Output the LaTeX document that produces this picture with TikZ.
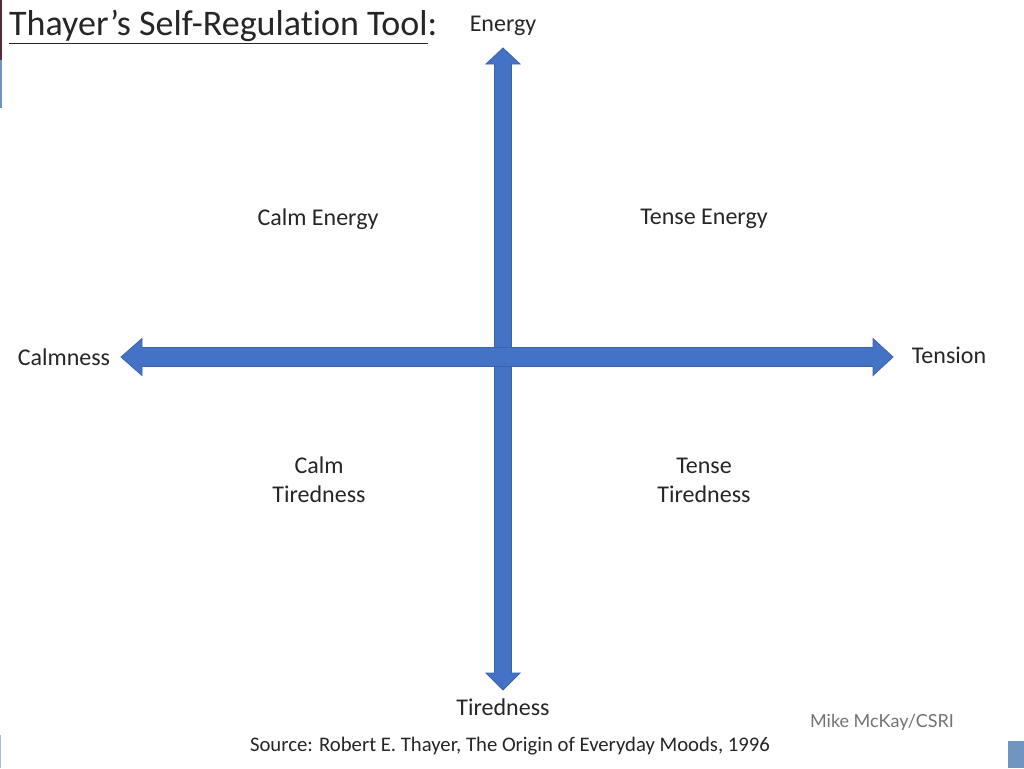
\documentclass[tikz,border=0pt]{standalone}
\usepackage{fontspec}
\setmainfont[RawFeature=-liga]{Carlito}
\newfontfamily\creditfont{Lato}
\definecolor{arrowblue}{HTML}{4472C4}
\definecolor{arrowedge}{HTML}{3A62A8}
\definecolor{textdark}{HTML}{262626}
\definecolor{edgered}{HTML}{5A2A3A}
\definecolor{edgeblue}{HTML}{6E96C0}
\begin{document}
\begin{tikzpicture}[x=1pt,y=-1pt,
  lbl/.style={inner sep=0pt, text=textdark, font=\fontsize{24}{29}\selectfont, align=center},
  fatarrow/.style={fill=arrowblue, draw=arrowedge, line width=0.8pt, line join=miter},
  srcfont/.style={inner sep=0pt, text=textdark, font=\fontsize{20.7}{24}\selectfont}]
\useasboundingbox[fill=white] (0,0) rectangle (1024,768);
% edge artefacts
\fill[edgered] (0,0) rectangle (2,60);
\fill[edgeblue] (0,60) rectangle (2,108);
\fill[edgeblue] (1008,741) rectangle (1024,768);
\fill[edgeblue!60] (0,735) rectangle (1.2,768);
% title
\node[inner sep=0pt, anchor=base west, text=textdark, font=\fontsize{36}{40}\selectfont] (title) at (9,36)
  {\underline{Thayer’s Self-Regulation Tool}:};
% axis end coordinates
\coordinate (vtop) at (503,48);
\coordinate (vbot) at (503,690);
\coordinate (hl) at (121,357);
\coordinate (hr) at (893,357);
% vertical double arrow
\draw[fatarrow] (vtop) -- ++(17,16) -- ++(-8.5,0) -- (511.5,673) -- ++(8.5,0) -- (vbot)
  -- (486,673) -- ++(8.5,0) -- (494.5,64) -- ++(-8.5,0) -- cycle;
% horizontal double arrow
\draw[fatarrow] (hl) -- (142,338.5) -- (142,347.5) -- (873,347.5) -- (873,338.5) -- (hr)
  -- (873,375.5) -- (873,366.5) -- (142,366.5) -- (142,375.5) -- cycle;
% axis labels
\node[lbl] (energy) at (503,26) {Energy};
\node[lbl] (tiredness) at (503,707) {Tiredness};
\node[lbl] (calmness) at (64,357) {Calmness};
\node[lbl] (tension) at (949,355) {Tension};
% quadrant labels
\node[lbl] (calmenergy) at (318,219) {Calm Energy};
\node[lbl] (tenseenergy) at (704,219) {Tense Energy};
\node[lbl, text depth=0pt] (calmtired) at (319,480) {Calm\\[0pt]Tiredness};
\node[lbl, text depth=0pt] (tensetired) at (704,480) {Tense\\[0pt]Tiredness};
% source and credit
\node[srcfont] (source) at (510,746) {Source: Robert E. Thayer, The Origin of Everyday Moods, 1996};
\node[inner sep=0pt, text=black!55, font=\creditfont\fontsize{18}{22}\selectfont] (credit) at (882,722) {Mike McKay/CSRI};
\end{tikzpicture}
\end{document}
